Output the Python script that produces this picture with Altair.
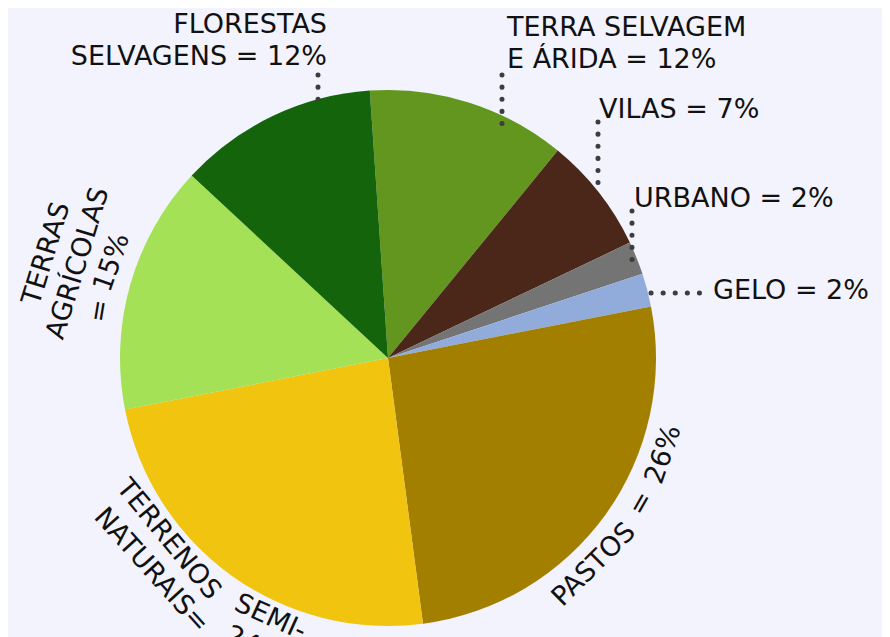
import math
import altair as alt
import pandas as pd

# ---------------- data ----------------
categories = ["TERRA SELVAGEM E ÁRIDA", "VILAS", "URBANO", "GELO", "PASTOS",
              "TERRENOS SEMI-NATURAIS", "TERRAS AGRÍCOLAS", "FLORESTAS SELVAGENS"]
values = [12, 7, 2, 2, 26, 24, 15, 12]
colors = ["#62961e", "#4a2718", "#747474", "#91acdb", "#a37f00",
          "#f1c410", "#a4e157", "#13640b"]

# straight labels (one entry per line of text)
straight_text = ["FLORESTAS", "SELVAGENS = 12%", "TERRA SELVAGEM", "E ÁRIDA = 12%",
                 "VILAS = 7%", "URBANO = 2%", "GELO = 2%"]
straight_align = ["right", "right", "left", "left", "left", "left", "left"]

# curved labels (one entry per line of text)
curved_text = ["TERRAS", "AGRÍCOLAS", "= 15%", "PASTOS = 26%",
               "TERRENOS SEMI-", "NATURAIS= 24%"]

# ---------------- layout ----------------
BG = "#f3f3fd"
OFF = 8
CX, CY = 388 - OFF, 358 - OFF
R_PIE = 268
START_DEG = -3.9
FONT = "DejaVu Sans"
FS = 27
INK = "#111111"
DOT = "#3d3d3d"

straight_x = [327, 327, 507, 507, 599, 634, 713]
straight_y = [33, 65, 36, 68, 118, 207, 299]

curved_center = [287, 287, 286, 124.5, 221, 221]
curved_radius = [357, 324, 292, 292, 285, 318]
curved_side = ["top", "top", "top", "bottom", "bottom", "bottom"]
curved_span = [135, 195, 75, 240, 308, 320]   # arc length of the line (px)

leaders = [  # x1, y1, x2, y2 (page px)
    (318, 75, 318, 99.5),
    (502, 75, 502, 123.5),
    (598, 122, 598, 194.5),
    (632, 211, 632, 259.5),
    (651, 293, 699.5, 293),
]

# DejaVu Sans advance widths (em)
W = {'A': .684, 'B': .686, 'C': .698, 'D': .770, 'E': .632, 'F': .575, 'G': .775,
     'H': .752, 'I': .295, 'Í': .295, 'L': .557, 'M': .863, 'N': .748, 'O': .787,
     'P': .603, 'R': .695, 'S': .635, 'T': .611, 'U': .732, 'V': .684, ' ': .318,
     '=': .838, '%': .950, '-': .361}
for d in "0123456789":
    W[d] = .636


def wlen(s):
    return sum(W.get(c, .65) for c in s) * FS


# ---------------- pie ----------------
pie_df = pd.DataFrame({"category": categories, "value": values,
                       "order": list(range(len(values)))})
start = math.radians(START_DEG)
pie = alt.Chart(pie_df).mark_arc(outerRadius=R_PIE).encode(
    theta=alt.Theta("value:Q", stack=True,
                    scale=alt.Scale(range=[start, start + 2 * math.pi])),
    color=alt.Color("category:N", scale=alt.Scale(domain=categories, range=colors),
                    legend=None),
    order=alt.Order("order:Q"),
    x=alt.value(CX), y=alt.value(CY),
)

# ---------------- straight labels ----------------
st_df = pd.DataFrame({"text": straight_text, "x": [v - OFF for v in straight_x],
                      "y": [v - OFF for v in straight_y], "align": straight_align})


def straight_layer(al):
    return alt.Chart(st_df[st_df["align"] == al]).mark_text(
        align=al, baseline="alphabetic", font=FONT, fontSize=FS, color=INK
    ).encode(
        x=alt.X("x:Q", scale=None, axis=None),
        y=alt.Y("y:Q", scale=None, axis=None),
        text="text:N",
    )


# ---------------- curved labels (word by word along the arc) ----------------
rows = []
for text, tc, R, side, span in zip(curved_text, curved_center, curved_radius,
                                   curved_side, curved_span):
    words = text.split(" ")
    ws = [wlen(w) for w in words]
    sp = W[' '] * FS
    if len(words) > 1:
        natural = sum(ws) + sp * (len(words) - 1)
        extra = min(10.0, max(0.0, span - natural) * 0.25 / (len(words) - 1))
        sp += extra
    L = sum(ws) + sp * (len(words) - 1)
    s = -L / 2
    for w, wl in zip(words, ws):
        mid = s + wl / 2
        dtheta = math.degrees(mid / R)
        th = tc + dtheta if side == "top" else tc - dtheta
        rad = math.radians(th)
        x = CX + R * math.sin(rad)
        y = CY - R * math.cos(rad)
        ang = th % 360 if side == "top" else (th - 180) % 360
        rows.append({"text": w, "x": x, "y": y, "angle": ang})
        s += wl + sp
cv_df = pd.DataFrame(rows)

curved = alt.Chart(cv_df).mark_text(
    align="center", baseline="middle", font=FONT, fontSize=FS, color=INK
).encode(
    x=alt.X("x:Q", scale=None, axis=None),
    y=alt.Y("y:Q", scale=None, axis=None),
    angle=alt.Angle("angle:Q", scale=None),
    text="text:N",
)

# ---------------- dotted leaders ----------------
ld_df = pd.DataFrame([{"x": a - OFF, "y": b - OFF, "x2": c - OFF, "y2": d - OFF}
                      for a, b, c, d in leaders])
dots = alt.Chart(ld_df).mark_rule(
    strokeDash=[0.1, 12], strokeCap="round", strokeWidth=5, color=DOT
).encode(
    x=alt.X("x:Q", scale=None, axis=None),
    y=alt.Y("y:Q", scale=None, axis=None),
    x2="x2:Q", y2="y2:Q",
)

chart = alt.layer(pie, dots, straight_layer("right"), straight_layer("left"), curved).properties(
    width=874, height=629,
    autosize=alt.AutoSizeParams(type="none"),
    padding=0,
    background=BG,
).configure_view(stroke=None).resolve_scale(x="independent", y="independent")

chart.save("out.html", embed_options={"renderer": "svg", "actions": False})
